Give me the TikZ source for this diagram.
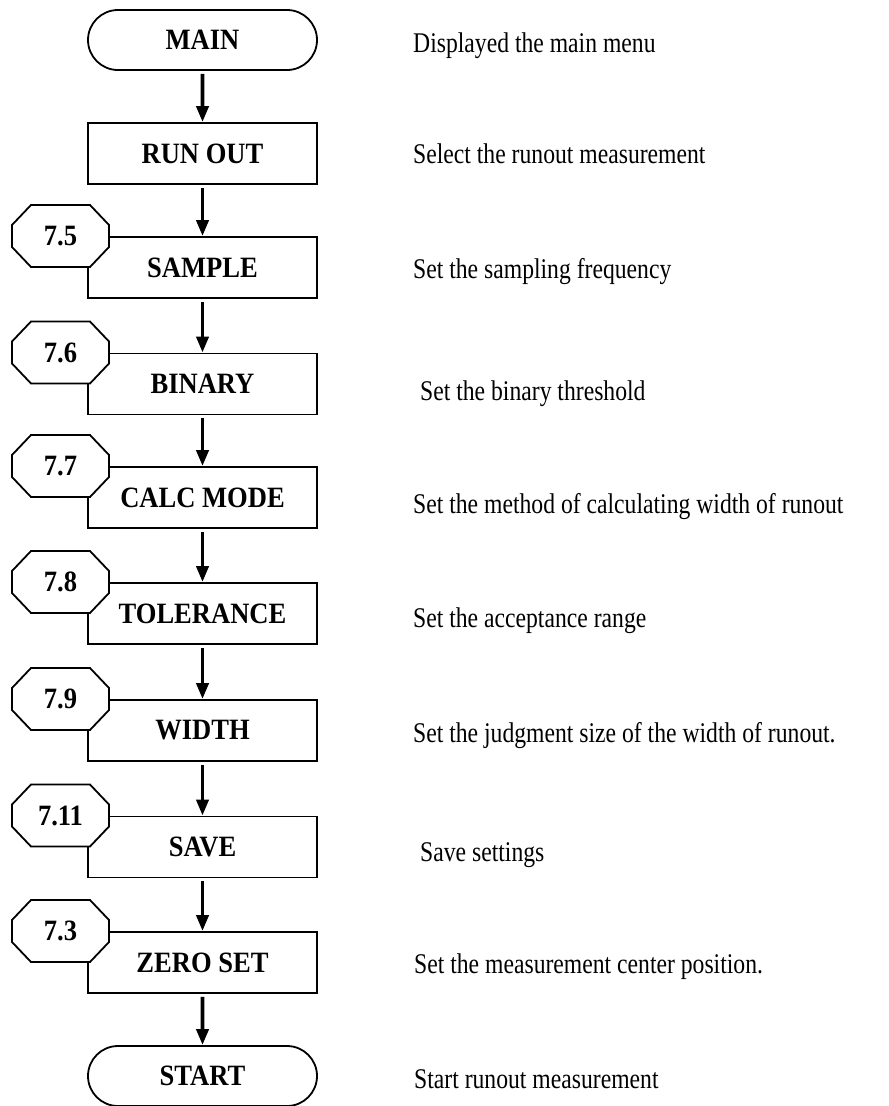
\documentclass[tikz,border=0pt]{standalone}
\usepackage{fontspec}
\setmainfont{Liberation Serif}
\newfontfamily\descfont[FakeStretch=0.83]{Liberation Serif}
\newfontfamily\boxfont[FakeStretch=0.9]{Liberation Serif}
\usetikzlibrary{shapes.misc,arrows.meta}
\newcommand\octbox[3]{%
  \draw[oct] (12,{#2-11}) -- (31,{#2-31}) -- (90,{#2-31}) -- (109,{#2-11})
    -- (109,{#2+11}) -- (90,{#2+31}) -- (31,{#2+31}) -- (12,{#2+11}) -- cycle;
  \node[num] (#1) at (60.5,#2) {#3};}
\begin{document}
\begin{tikzpicture}[x=1pt,y=-1pt,
  box/.style={draw,line width=1.8pt,fill=white,minimum width=229pt,minimum height=61pt,inner sep=0pt,
    font=\boxfont\bfseries\fontsize{29.5pt}{30pt}\selectfont},
  term/.style={box,rounded rectangle,minimum height=60pt},
  desc/.style={anchor=base west,inner sep=0pt,font=\descfont\fontsize{28.5pt}{30pt}\selectfont},
  num/.style={inner sep=0pt,font=\boxfont\bfseries\fontsize{29.5pt}{30pt}\selectfont},
  oct/.style={draw,line width=1.8pt,fill=white,line join=miter},
  flow/.style={line width=3.8pt,-{Triangle[width=12pt,length=16pt]},shorten <=3pt}]
\useasboundingbox (0,0) rectangle (889,1106);
% boxes
\node[term] (main)  at (202.5,40)    {MAIN};
\node[box]  (runout) at (202.5,153.5) {RUN OUT};
\node[box]  (sample) at (202.5,267.5) {SAMPLE};
\node[box]  (binary) at (202.5,384)   {BINARY};
\node[box]  (calc)   at (202.5,497.5) {CALC MODE};
\node[box]  (tol)    at (202.5,613.5) {TOLERANCE};
\node[box]  (width)  at (202.5,730.5) {WIDTH};
\node[box]  (save)   at (202.5,847)   {SAVE};
\node[box]  (zero)   at (202.5,962.5) {ZERO SET};
\node[term] (start)  at (202.5,1076)  {START};
% section tags
\octbox{n75}{236}{7.5}
\octbox{n76}{352.5}{7.6}
\octbox{n77}{466}{7.7}
\octbox{n78}{582}{7.8}
\octbox{n79}{699}{7.9}
\octbox{n711}{815.5}{7.11}
\octbox{n73}{931}{7.3}
% connectors
\draw[flow] (main) -- (runout);
\draw[flow] (runout) -- (sample);
\draw[flow] (sample) -- (binary);
\draw[flow] (binary) -- (calc);
\draw[flow] (calc) -- (tol);
\draw[flow] (tol) -- (width);
\draw[flow] (width) -- (save);
\draw[flow] (save) -- (zero);
\draw[flow] (zero) -- (start);
% descriptions
\node[desc] (d1) at (413,52)   {Displayed the main menu};
\node[desc] (d2) at (413,163)  {Select the runout measurement};
\node[desc] (d3) at (413,278)  {Set the sampling frequency};
\node[desc] (d4) at (420,400)  {Set the binary threshold};
\node[desc] (d5) at (413,513)  {Set the method of calculating width of runout};
\node[desc] (d6) at (413,627)  {Set the acceptance range};
\node[desc] (d7) at (413,742)  {Set the judgment size of the width of runout.};
\node[desc] (d8) at (420,861)  {Save settings};
\node[desc] (d9) at (414,973)  {Set the measurement center position.};
\node[desc] (d10) at (414,1088) {Start runout measurement};
\end{tikzpicture}
\end{document}
